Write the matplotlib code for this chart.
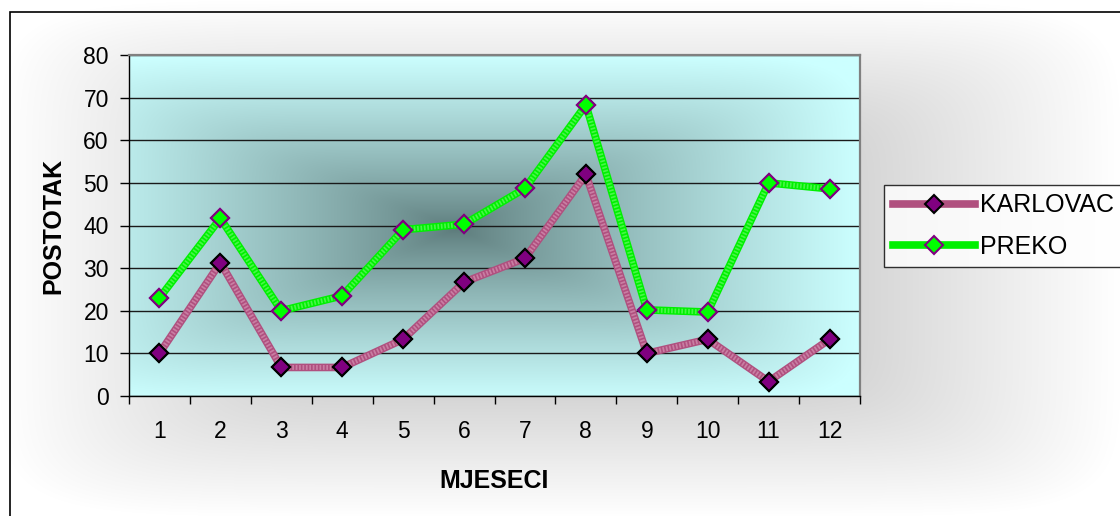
import numpy as np
import matplotlib
matplotlib.use("Agg")
import matplotlib.pyplot as plt
from matplotlib.patches import Rectangle

plt.rcParams['font.family'] = ['Liberation Sans', 'DejaVu Sans']

months = [1, 2, 3, 4, 5, 6, 7, 8, 9, 10, 11, 12]
karlovac = [10, 31.3, 6.7, 6.7, 13.3, 26.7, 32.3, 52, 10, 13.3, 3.4, 13.3]
preko = [23, 41.7, 20, 23.5, 39, 40.3, 48.7, 68.3, 20.2, 19.7, 50, 48.6]
yticks = [0, 10, 20, 30, 40, 50, 60, 70, 80]


def rect_gradient(w, h, cx, cy, inner, outer, p=8, gamma=1.0):
    # "from centre" fill, nearly rectangular contours with softened corners
    xs = (np.arange(w) - cx) / max(cx, w - cx)
    ys = (np.arange(h) - cy) / max(cy, h - cy)
    t = (np.abs(xs)[None, :] ** p + np.abs(ys)[:, None] ** p) ** (1.0 / p)
    t = np.clip(t, 0, 1) ** gamma
    t = t[..., None]
    inner = np.array(inner) / 255.0
    outer = np.array(outer) / 255.0
    return inner + (outer - inner) * t


fig = plt.figure(figsize=(11.2, 5.16), dpi=100)

# chart area background
bg = fig.add_axes([0, 0, 1, 1], zorder=-2)
bg.imshow(rect_gradient(1120, 516, 560, 258, (166, 166, 166), (255, 255, 255)),
          extent=[0, 1, 0, 1], aspect='auto', interpolation='bilinear')
bg.set_xlim(0, 1)
bg.set_ylim(0, 1)
bg.axis('off')
bg.add_patch(Rectangle((10 / 1120, -0.1), 1.2, 1.1 - 12 / 516, fill=False,
                       edgecolor='black', linewidth=1.2))

ax = fig.add_axes([129 / 1120, 120 / 516, 731 / 1120, 341 / 516])
ax.set_facecolor('none')

# plot area fill, dark in the middle and pale cyan at the edges
grad = rect_gradient(730, 340, 326, 173, (92, 122, 122), (204, 255, 255),
                     gamma=0.8)
ax.imshow(grad, extent=[0.5, 12.5, 0, 80], aspect='auto', zorder=0,
          interpolation='bilinear')

ax.set_xlim(0.5, 12.5)
ax.set_ylim(0, 80)
ax.set_axisbelow(True)
ax.yaxis.grid(True, color='#1a1a1a', linewidth=1.0)


def textured_line(x, y, base, light, face, edge, label, z):
    ax.plot(x, y, color=base, linewidth=5.5, solid_joinstyle='miter',
            marker='D', markersize=9, markerfacecolor=face,
            markeredgecolor=edge, markeredgewidth=1.5, label=label, zorder=z)
    ax.plot(x, y, color=light, linewidth=3.5, alpha=0.45,
            linestyle=(0, (0.35, 0.35)), zorder=z + 0.1)
    ax.plot(x, y, linestyle='none', marker='D', markersize=9,
            markerfacecolor=face, markeredgecolor=edge,
            markeredgewidth=1.5, zorder=z + 0.2)


textured_line(months, karlovac, '#b0507f', '#e8b8d0', '#800080', 'black',
              'KARLOVAC', 3)
textured_line(months, preko, '#00f000', '#a0ffa0', '#00ff00', '#800080',
              'PREKO', 4)

ax.set_yticks(yticks)
ax.set_xticks(months)
ax.set_xticks(np.arange(0.5, 13, 1), minor=True)
ax.tick_params(axis='x', which='major', length=0, pad=17, labelsize=16.5)
ax.tick_params(axis='x', which='minor', length=6, width=1, direction='out')
ax.tick_params(axis='y', length=6.5, width=1, pad=8, labelsize=16.5)

for side in ['left', 'bottom']:
    ax.spines[side].set_color('black')
    ax.spines[side].set_linewidth(1.0)
for side in ['top', 'right']:
    ax.spines[side].set_color('#808080')
    ax.spines[side].set_linewidth(1.6)

ax.set_xlabel('MJESECI', fontsize=18, fontweight='bold', labelpad=19)
ax.set_ylabel('POSTOTAK', fontsize=18, fontweight='bold', labelpad=13)

leg = fig.legend(loc='upper left', bbox_to_anchor=(884 / 1120, 1 - 185 / 516),
                 fontsize=18, frameon=True, fancybox=False, numpoints=1,
                 handlelength=3.3, handletextpad=0.2, labelspacing=0.68,
                 borderpad=0.34, borderaxespad=0)
leg.get_frame().set_edgecolor('black')
leg.get_frame().set_linewidth(1.0)
leg.get_frame().set_facecolor('white')

fig.savefig('out.png', dpi=100)
